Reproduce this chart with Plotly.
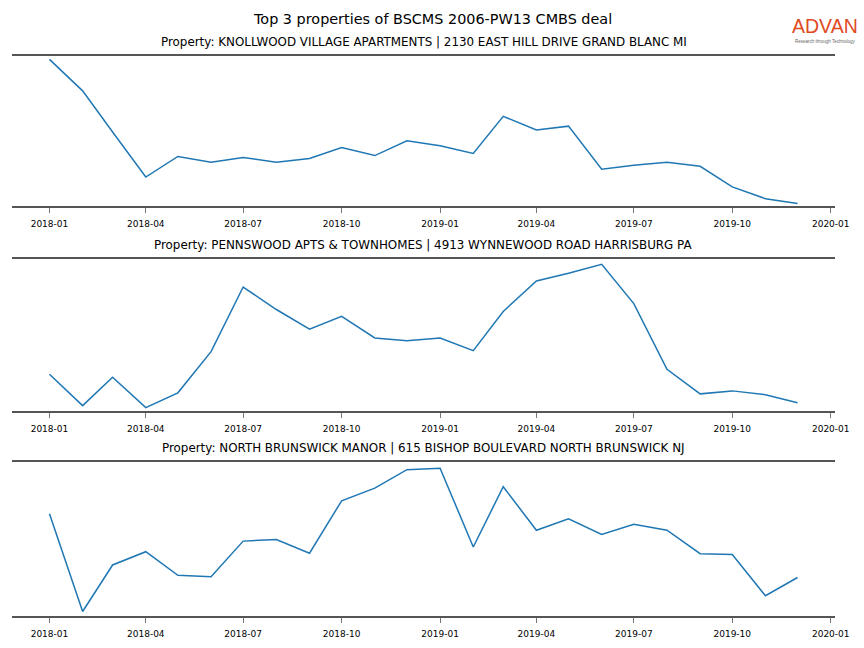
import plotly.graph_objects as go
from plotly.subplots import make_subplots

months = ["2018-01-01", "2018-02-01", "2018-03-01", "2018-04-01", "2018-05-01", "2018-06-01",
          "2018-07-01", "2018-08-01", "2018-09-01", "2018-10-01", "2018-11-01", "2018-12-01",
          "2019-01-01", "2019-02-01", "2019-03-01", "2019-04-01", "2019-05-01", "2019-06-01",
          "2019-07-01", "2019-08-01", "2019-09-01", "2019-10-01", "2019-11-01", "2019-12-01"]

knollwood = [98.7, 77.3, 49.3, 18.7, 32.7, 28.7, 32.0, 28.7, 31.3, 38.7, 33.3, 43.3,
             40.0, 34.7, 60.0, 50.7, 53.3, 24.0, 26.7, 28.7, 26.0, 12.0, 4.0, 0.7]
pennswood = [23.7, 2.6, 21.7, 1.3, 11.2, 38.8, 82.2, 67.1, 53.9, 62.5, 48.0, 46.1,
             48.0, 39.5, 65.8, 86.2, 91.4, 97.4, 71.1, 27.0, 10.5, 12.5, 9.9, 4.6]
brunswick = [66.8, 2.0, 32.8, 41.6, 26.0, 25.0, 48.6, 49.7, 40.6, 75.3, 83.7, 95.9,
             96.9, 44.7, 84.6, 55.8, 63.4, 53.0, 59.7, 55.8, 40.3, 39.7, 12.4, 24.5]

titles = ["Property: KNOLLWOOD VILLAGE APARTMENTS | 2130 EAST HILL DRIVE GRAND BLANC MI",
          "Property: PENNSWOOD APTS & TOWNHOMES | 4913 WYNNEWOOD ROAD HARRISBURG PA",
          "Property: NORTH BRUNSWICK MANOR | 615 BISHOP BOULEVARD NORTH BRUNSWICK NJ"]
main_title = "Top 3 properties of BSCMS 2006-PW13 CMBS deal"

series = [knollwood, pennswood, brunswick]

W, H = 864, 648
x_dom = [12 / W, 835 / W]
panels = [(56, 206), (259, 411), (462, 616)]
y_doms = [[1 - b / H, 1 - t / H] for t, b in panels]

fig = make_subplots(rows=3, cols=1)
for i, vals in enumerate(series):
    fig.add_trace(go.Scatter(x=months, y=vals, mode="lines",
                             line=dict(color="#1f77b4", width=1.5),
                             showlegend=False, hoverinfo="skip"), row=i + 1, col=1)

font_fam = "DejaVu Sans"
for i in range(3):
    xa = "xaxis" if i == 0 else f"xaxis{i+1}"
    ya = "yaxis" if i == 0 else f"yaxis{i+1}"
    fig.layout[xa].update(domain=x_dom, type="date", automargin=False,
                          range=["2017-11-27", "2020-01-05"],
                          tick0="2018-01-01", dtick="M3", tickformat="%Y-%m",
                          showline=True, mirror=True, linecolor="#555555", linewidth=2,
                          ticks="outside", ticklen=5, tickwidth=1, tickcolor="#777777",
                          ticklabelstandoff=3,
                          showgrid=False, zeroline=False,
                          tickfont=dict(family=font_fam, size=9, color="#000000"))
    fig.layout[ya].update(domain=y_doms[i], range=[-1, 101], visible=False,
                          automargin=False, showgrid=False, zeroline=False)
    fig.add_annotation(text=titles[i], xref="paper", yref="paper",
                       x=(x_dom[0] + x_dom[1]) / 2, y=y_doms[i][1] + 5 / H,
                       xanchor="center", yanchor="bottom", showarrow=False,
                       font=dict(family=font_fam, size=11.9, color="#000000"))

fig.add_annotation(text=main_title, xref="paper", yref="paper", x=0.5, y=1 - 19 / H,
                   xanchor="center", yanchor="middle", showarrow=False,
                   font=dict(family=font_fam, size=14.4, color="#000000"))
fig.add_annotation(text="ADVAN", xref="paper", yref="paper", x=824.5 / W, y=1 - 38 / H,
                   xanchor="center", yanchor="bottom", showarrow=False, borderpad=0,
                   font=dict(family="Liberation Sans", size=19.5, color="#e04a1f"))
fig.add_annotation(text="Research through Technology", xref="paper", yref="paper",
                   x=824.5 / W, y=1 - 38 / H, xanchor="center", yanchor="top",
                   showarrow=False, borderpad=0,
                   font=dict(family="Liberation Sans", size=4.5, color="#666666"))

fig.update_layout(width=W, height=H, margin=dict(l=0, r=0, t=0, b=0, autoexpand=False),
                  paper_bgcolor="white", plot_bgcolor="white")
fig.write_html("out.html",
               config={"displayModeBar": False, "staticPlot": True},
               post_script=("document.body.style.margin='0px';"
                            "document.body.style.overflow='hidden';"))
